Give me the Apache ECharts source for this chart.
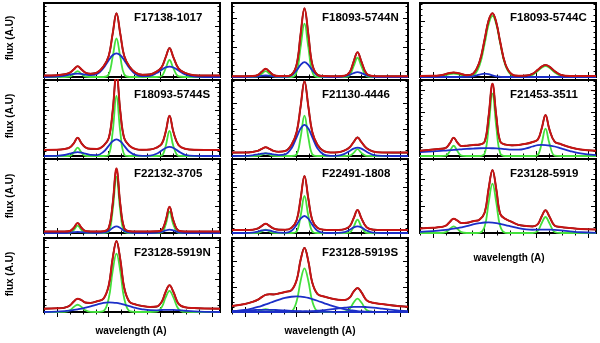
<!DOCTYPE html>
<html>
<head>
<meta charset="utf-8">
<script src="https://cdn.jsdelivr.net/npm/echarts@6/dist/echarts.min.js"></script>
<style>
  html, body { margin: 0; padding: 0; background: #fff; }
  #chart { width: 600px; height: 343px; }
</style>
</head>
<body>
<div id="chart"></div>
<script>
// wavelength samples (A), shared by every panel
var wave = [6535, 6540, 6543, 6545, 6546.5, 6548, 6549.5, 6551, 6553, 6555.5, 6558, 6560, 6561.5, 6563, 6564.5,
            6566, 6568, 6570.5, 6573, 6576, 6578.5, 6580.5, 6582, 6583.5, 6585, 6587, 6589.5, 6593, 6597, 6603];

var panelNames = ['F17138-1017', 'F18093-5744N', 'F18093-5744C', 'F18093-5744S', 'F21130-4446', 'F21453-3511',
                  'F22132-3705', 'F22491-1808', 'F23128-5919', 'F23128-5919N', 'F23128-5919S'];

// flux, 0 = bottom of panel, 100 = top
var f17138Total  = [2, 2.4, 3.7, 5.8, 10.2, 14.5, 10.2, 5.8, 4.4, 6.0, 14.3, 28.3, 57.9, 86, 57.9, 28.3, 14.2, 5.5, 2.9, 3.5, 7.3, 13.5, 26.6, 39, 26.6, 11.4, 5.5, 2.4, 2, 2];
var f17138Narrow = [0, 0, 0, 0.6, 4.1, 8, 4.1, 0.6, 0, 0, 0, 3.6, 26.5, 52, 26.5, 3.6, 0, 0, 0, 0, 0, 1.6, 11.7, 23, 11.7, 0.7, 0, 0, 0, 0];
var f17138Broad  = [0, 0.4, 1.7, 3.2, 4.1, 4.5, 4.1, 3.2, 2.4, 4.0, 12.3, 22.7, 29.4, 32, 29.4, 22.7, 12.2, 3.5, 0.9, 1.5, 5.3, 9.9, 12.9, 14, 12.9, 8.7, 3.5, 0.4, 0, 0];

var f5744nTotal  = [1, 1, 1.2, 2.7, 7.1, 11, 7.1, 2.7, 1.2, 1.2, 3.2, 17.4, 57.7, 93, 57.7, 17.4, 3.2, 1.2, 1, 1, 1.7, 6.6, 20.9, 33.5, 20.9, 4.4, 1.3, 1, 1, 1];
var f5744nNarrow = [0, 0, 0, 0.8, 4.5, 8, 4.5, 0.8, 0, 0, 0, 7.2, 40.3, 72, 40.3, 7.2, 0, 0, 0, 0, 0, 2.6, 14.6, 26, 14.6, 1.1, 0, 0, 0, 0];
var f5744nBroad  = [0, 0, 0.2, 0.9, 1.6, 2, 1.6, 0.9, 0.2, 0.2, 2.2, 9.2, 16.4, 20, 16.4, 9.2, 2.2, 0.2, 0, 0, 0.7, 3.0, 5.3, 6.5, 5.3, 2.3, 0.3, 0, 0, 0];

var f5744cTotal  = [1.5, 1.6, 2.4, 4.0, 5.4, 6.0, 5.4, 4.0, 2.5, 4.5, 20.5, 51.4, 76.3, 86.2, 73.4, 47.2, 17.2, 3.5, 1.6, 1.9, 4.3, 9.6, 14.1, 16.2, 14.1, 8.0, 2.8, 1.5, 1.5, 1.5];
var f5744cNarrow = [0, 0.1, 0.9, 2.5, 3.9, 4.5, 3.9, 2.5, 0.9, 2.1, 15.7, 45.4, 71, 82.5, 71, 45.4, 15.7, 2.0, 0.1, 0.4, 2.8, 8.1, 12.6, 14.7, 12.6, 6.5, 1.3, 0, 0, 0];
var f5744cBroad  = [0, 0, 0, 0, 0, 0, 0, 0, 0.1, 0.9, 3.3, 4.5, 3.8, 2.2, 0.9, 0.3, 0, 0, 0, 0, 0, 0, 0, 0, 0, 0, 0, 0, 0, 0];

var f5744sTotal  = [8, 8.2, 9.3, 11.4, 16.7, 24, 16.7, 11.4, 9.4, 9.2, 13.5, 23.3, 58.2, 109, 58.2, 23.3, 13.5, 9.0, 8.1, 8.5, 11.0, 16.1, 31.5, 53, 31.5, 14.3, 9.6, 8.1, 8, 8];
var f5744sNarrow = [0, 0, 0, 0.3, 4.3, 11, 4.3, 0.3, 0, 0, 0, 1.9, 30.8, 79, 30.8, 1.9, 0, 0, 0, 0, 0, 0.8, 12.9, 33, 12.9, 0.2, 0, 0, 0, 0];
var f5744sBroad  = [0, 0.2, 1.3, 3.1, 4.4, 5, 4.4, 3.1, 1.4, 1.2, 5.5, 13.4, 19.4, 22, 19.4, 13.4, 5.5, 1.0, 0.1, 0.5, 3.0, 7.3, 10.6, 12, 10.6, 6.1, 1.6, 0.1, 0, 0];

var f21130Total  = [4.5, 4.6, 5.4, 6.8, 9.3, 11.6, 9.3, 6.8, 5.6, 6.5, 14.8, 31.8, 65, 98.5, 65, 31.8, 14.8, 6.3, 4.7, 5, 7.3, 11.6, 18.3, 24.5, 18.3, 10.2, 6, 4.6, 4.5, 4.5];
var f21130Narrow = [0, 0, 0, 0.2, 1.7, 3.6, 1.7, 0.2, 0, 0, 0, 2.3, 24.4, 53, 24.4, 2.3, 0, 0, 0, 0, 0, 0.4, 4.1, 9, 4.1, 0.1, 0, 0, 0, 0];
var f21130Broad  = [0, 0.1, 0.9, 2.1, 3.1, 3.5, 3.1, 2.1, 1.1, 2.0, 10.3, 25, 36.1, 41, 36.1, 25, 10.3, 1.8, 0.2, 0.5, 2.8, 6.7, 9.7, 11, 9.7, 5.6, 1.5, 0.1, 0, 0];

var f21453Total  = [7, 8.5, 9.5, 10.8, 16.5, 24, 17.5, 13, 13.5, 14.5, 15, 19, 52, 95, 52, 19, 15, 14, 14.5, 16, 18.5, 21.5, 36, 54, 35, 19, 15.5, 11.5, 8.5, 7];
var f21453Narrow = [0, 0, 0, 0.6, 6.2, 13.5, 6.2, 0.6, 0, 0, 0, 3.6, 37.7, 82, 37.7, 3.6, 0, 0, 0, 0, 0, 1.6, 16.6, 36, 16.6, 0.5, 0, 0, 0, 0];
var f21453Broad  = [5, 6, 6.7, 7.2, 7.6, 8, 8.4, 8.8, 9.3, 9.8, 10.2, 10.3, 10.3, 10.2, 10, 9.6, 9.0, 8.4, 8.4, 10, 12.5, 14.2, 14.6, 14.4, 13.8, 12.5, 10, 6.5, 3.5, 1.2];

var f22132Total  = [2, 2, 2, 2.7, 7, 13.5, 7, 2.7, 2.1, 2, 2.4, 6.7, 38.4, 87, 38.4, 6.7, 2.4, 2, 2, 2, 2.2, 4.1, 16.7, 35.5, 16.7, 3.2, 2, 2, 2, 2];
var f22132Narrow = [0, 0, 0, 0.2, 3.9, 10, 3.9, 0.2, 0, 0, 0, 1.8, 29.6, 76, 29.6, 1.8, 0, 0, 0, 0, 0, 0.7, 11.3, 29, 11.3, 0.2, 0, 0, 0, 0];
var f22132Broad  = [0, 0, 0, 0.5, 1.1, 1.5, 1.1, 0.5, 0.1, 0, 0.4, 2.9, 6.8, 9, 6.8, 2.9, 0.4, 0, 0, 0, 0.2, 1.4, 3.4, 4.5, 3.4, 1, 0, 0, 0, 0];

var f22491Total  = [4, 4, 4.5, 6.2, 9.5, 12.5, 9.5, 6.2, 4.5, 4.3, 7.1, 17.5, 46.3, 77, 46.3, 17.5, 7.1, 4.3, 4, 4.1, 5.2, 9.2, 19.9, 31, 19.9, 7.7, 4.5, 4, 4, 4];
var f22491Narrow = [0, 0, 0, 0.2, 2.1, 4.5, 2.1, 0.2, 0, 0, 0, 2.2, 23, 50, 23, 2.2, 0, 0, 0, 0, 0, 0.8, 8.3, 18, 8.3, 0.3, 0, 0, 0, 0];
var f22491Broad  = [0, 0, 0.5, 2, 3.4, 4, 3.4, 2, 0.5, 0.3, 3.1, 11.3, 19.3, 23, 19.3, 11.3, 3.1, 0.3, 0, 0.1, 1.2, 4.4, 7.6, 9, 7.6, 3.4, 0.5, 0, 0, 0];

var f5919Total   = [6, 7, 8, 10, 15, 19.3, 16.7, 13.4, 13.7, 16, 18.1, 27.7, 59.5, 85.2, 58.5, 25.8, 19, 15, 11, 9.4, 8.9, 11.9, 22.3, 30.7, 22.2, 10.1, 8, 6.7, 5.5, 4.8];
var f5919Narrow  = [0, 0, 0, 1.2, 5.5, 9, 5.5, 1.2, 0, 0, 0.3, 9, 40.7, 66.7, 40.7, 9, 0.3, 0, 0, 0, 0, 2.9, 13.2, 21.6, 13.2, 1.4, 0, 0, 0, 0];
var f5919Broad   = [1.5, 2.5, 3.5, 4.3, 5, 5.8, 6.7, 7.7, 9.2, 11.5, 13.3, 14.2, 14.3, 14, 13.3, 12.3, 10.8, 8.6, 6.5, 4.9, 4.4, 4.5, 4.6, 4.6, 4.5, 4.2, 3.5, 2.2, 1, 0.3];

var f5919nTotal  = [4.5, 5, 5.9, 8.8, 14.1, 18, 16, 12.7, 12.3, 14.5, 18.1, 35.7, 71.8, 95.8, 70.3, 32.7, 13.8, 10, 8.1, 6.9, 7.3, 13.8, 27.2, 36.1, 27.1, 10.9, 6.3, 5.3, 4.7, 4.5];
var f5919nNarrow = [0, 0, 0.2, 2.3, 6.8, 9.8, 6.8, 2.3, 0.2, 0, 1.3, 18.2, 54.5, 79, 54.5, 18.2, 1.3, 0, 0, 0, 0.5, 6.6, 19.7, 28.6, 19.7, 3.9, 0.1, 0, 0, 0];
var f5919nBroad  = [0, 0.5, 1.2, 2, 2.8, 3.7, 4.7, 5.9, 7.6, 10, 12.3, 13, 12.8, 12.3, 11.3, 10, 8, 5.5, 3.6, 2.4, 2.3, 2.7, 3, 3, 2.9, 2.5, 1.7, 0.8, 0.2, 0];

var f5919sTotal  = [8, 10.8, 13.7, 16.6, 20.2, 23.2, 23.9, 23.8, 25.1, 27.1, 29.6, 43.4, 70.2, 86.6, 68.4, 39.9, 24.4, 20.9, 18.6, 16.6, 16.1, 19.6, 27.6, 32.3, 26.7, 15.9, 12.4, 10.7, 8.9, 7.1];
var f5919sNarrow = [0, 0, 0.1, 1, 2.8, 4, 2.8, 1, 0.1, 0, 1.2, 14.8, 41.9, 59, 41.9, 14.8, 1.2, 0, 0, 0, 0.4, 4.5, 12.8, 18, 12.8, 2.7, 0.1, 0, 0, 0];
var f5919sBroadHa  = [0.9, 2.8, 5.0, 6.8, 8.4, 10.2, 12.1, 14, 16.4, 19, 20.6, 21, 20.8, 20.1, 19, 17.5, 15.2, 12.1, 9, 5.8, 3.8, 2.6, 1.9, 1.3, 0.9, 0.5, 0.3, 0.1, 0, 0];
var f5919sBroadN2r = [0, 0, 0, 0, 0, 0, 0, 0, 0, 0, 0.2, 0.4, 0.5, 0.7, 0.9, 1.2, 1.7, 2.6, 3.5, 4.8, 5.9, 6.5, 6.9, 7, 7, 6.7, 6, 4.6, 2.9, 1.1];
var f5919sBroadN2b = [1.1, 2, 2.6, 2.8, 3, 3, 3, 2.8, 2.6, 2.1, 1.6, 1.2, 1, 0.75, 0.6, 0.4, 0.25, 0.15, 0.06, 0, 0, 0, 0, 0, 0, 0, 0, 0, 0, 0];

var totals  = [f17138Total, f5744nTotal, f5744cTotal, f5744sTotal, f21130Total, f21453Total,
               f22132Total, f22491Total, f5919Total, f5919nTotal, f5919sTotal];
var narrows = [f17138Narrow, f5744nNarrow, f5744cNarrow, f5744sNarrow, f21130Narrow, f21453Narrow,
               f22132Narrow, f22491Narrow, f5919Narrow, f5919nNarrow, f5919sNarrow];
var broads  = [[f17138Broad], [f5744nBroad], [f5744cBroad], [f5744sBroad], [f21130Broad], [f21453Broad],
               [f22132Broad], [f22491Broad], [f5919Broad], [f5919nBroad], [f5919sBroadHa, f5919sBroadN2r, f5919sBroadN2b]];

// layout of the panels (px)
var colLeft = [44, 232, 420];
var rowTop = [3, 80, 159, 238];
var rowH = [74, 76, 74, 74];
var panelW = 176;
var yStep = [34, 40, 38, 30, 35, 29, 36, 31, 36, 44, 34];

var xMajor = [6540, 6560, 6580, 6600];
var xMinor = [];
for (var w = 6535; w <= 6600; w += 5) xMinor.push(w);

function ticksFrom(step) {
  var a = [];
  for (var v = 0; v <= 100.01; v += step) a.push(+v.toFixed(2));
  return a;
}

function pairs(ys) {
  return ys.map(function (y, k) { return [wave[k], y]; });
}

function axis(kind, g, pos, vals, len) {
  return {
    type: 'value', gridIndex: g, position: pos,
    min: kind === 'x' ? 6535 : 0, max: kind === 'x' ? 6603 : 100,
    axisLine: { show: false }, splitLine: { show: false }, axisLabel: { show: false },
    axisTick: { show: true, inside: true, length: len, customValues: vals, lineStyle: { color: '#000', width: 1 } }
  };
}

var grids = [], xAxes = [], yAxes = [], series = [], texts = [];

panelNames.forEach(function (name, i) {
  var r = Math.floor(i / 3), c = i % 3;
  var left = colLeft[c], top = rowTop[r];
  grids.push({ left: left, top: top, width: panelW, height: rowH[r], show: true,
               borderColor: '#000', borderWidth: 2, backgroundColor: 'rgba(0,0,0,0)' });

  var yMaj = ticksFrom(yStep[i]), yMin = ticksFrom(yStep[i] / 5);
  ['bottom', 'top'].forEach(function (p) {
    xAxes.push(axis('x', i, p, xMajor, 5));
    xAxes.push(axis('x', i, p, xMinor, 2.5));
  });
  ['left', 'right'].forEach(function (p) {
    yAxes.push(axis('y', i, p, yMaj, 5));
    yAxes.push(axis('y', i, p, yMin, 2.5));
  });

  var base = { type: 'line', xAxisIndex: 4 * i, yAxisIndex: 4 * i, showSymbol: false, smooth: 0.4, silent: true };
  series.push(Object.assign({}, base, { data: pairs(narrows[i]), lineStyle: { color: '#44e03c', width: 1.8 } }));
  broads[i].forEach(function (b) {
    series.push(Object.assign({}, base, { data: pairs(b), lineStyle: { color: '#1c2fc8', width: 1.8 } }));
  });
  // observed spectrum under the fitted total
  series.push(Object.assign({}, base, { data: pairs(totals[i]), lineStyle: { color: '#000', width: 1.6 } }));
  series.push(Object.assign({}, base, { data: pairs(totals[i]), lineStyle: { color: '#c81414', width: 2 } }));

  texts.push({ type: 'text', x: left + 90, y: top + 15, z: 100,
               style: { text: name, font: 'bold 11.5px "Liberation Sans"', fill: '#000', align: 'left', verticalAlign: 'middle' } });
});

// axis titles
[38, 116, 196, 274].forEach(function (y) {
  texts.push({ type: 'text', x: 10, y: y, rotation: Math.PI / 2, z: 100,
               style: { text: 'flux (A.U)', font: 'bold 10px "Liberation Sans"', fill: '#000', align: 'center', verticalAlign: 'middle' } });
});
[[131, 331], [320, 331], [509, 258]].forEach(function (p) {
  texts.push({ type: 'text', x: p[0], y: p[1], z: 100,
               style: { text: 'wavelength (A)', font: 'bold 10px "Liberation Sans"', fill: '#000', align: 'center', verticalAlign: 'middle' } });
});

var chart = echarts.init(document.getElementById('chart'));
chart.setOption({
  animation: false,
  grid: grids,
  xAxis: xAxes,
  yAxis: yAxes,
  series: series,
  graphic: { elements: texts }
});
</script>
</body>
</html>
